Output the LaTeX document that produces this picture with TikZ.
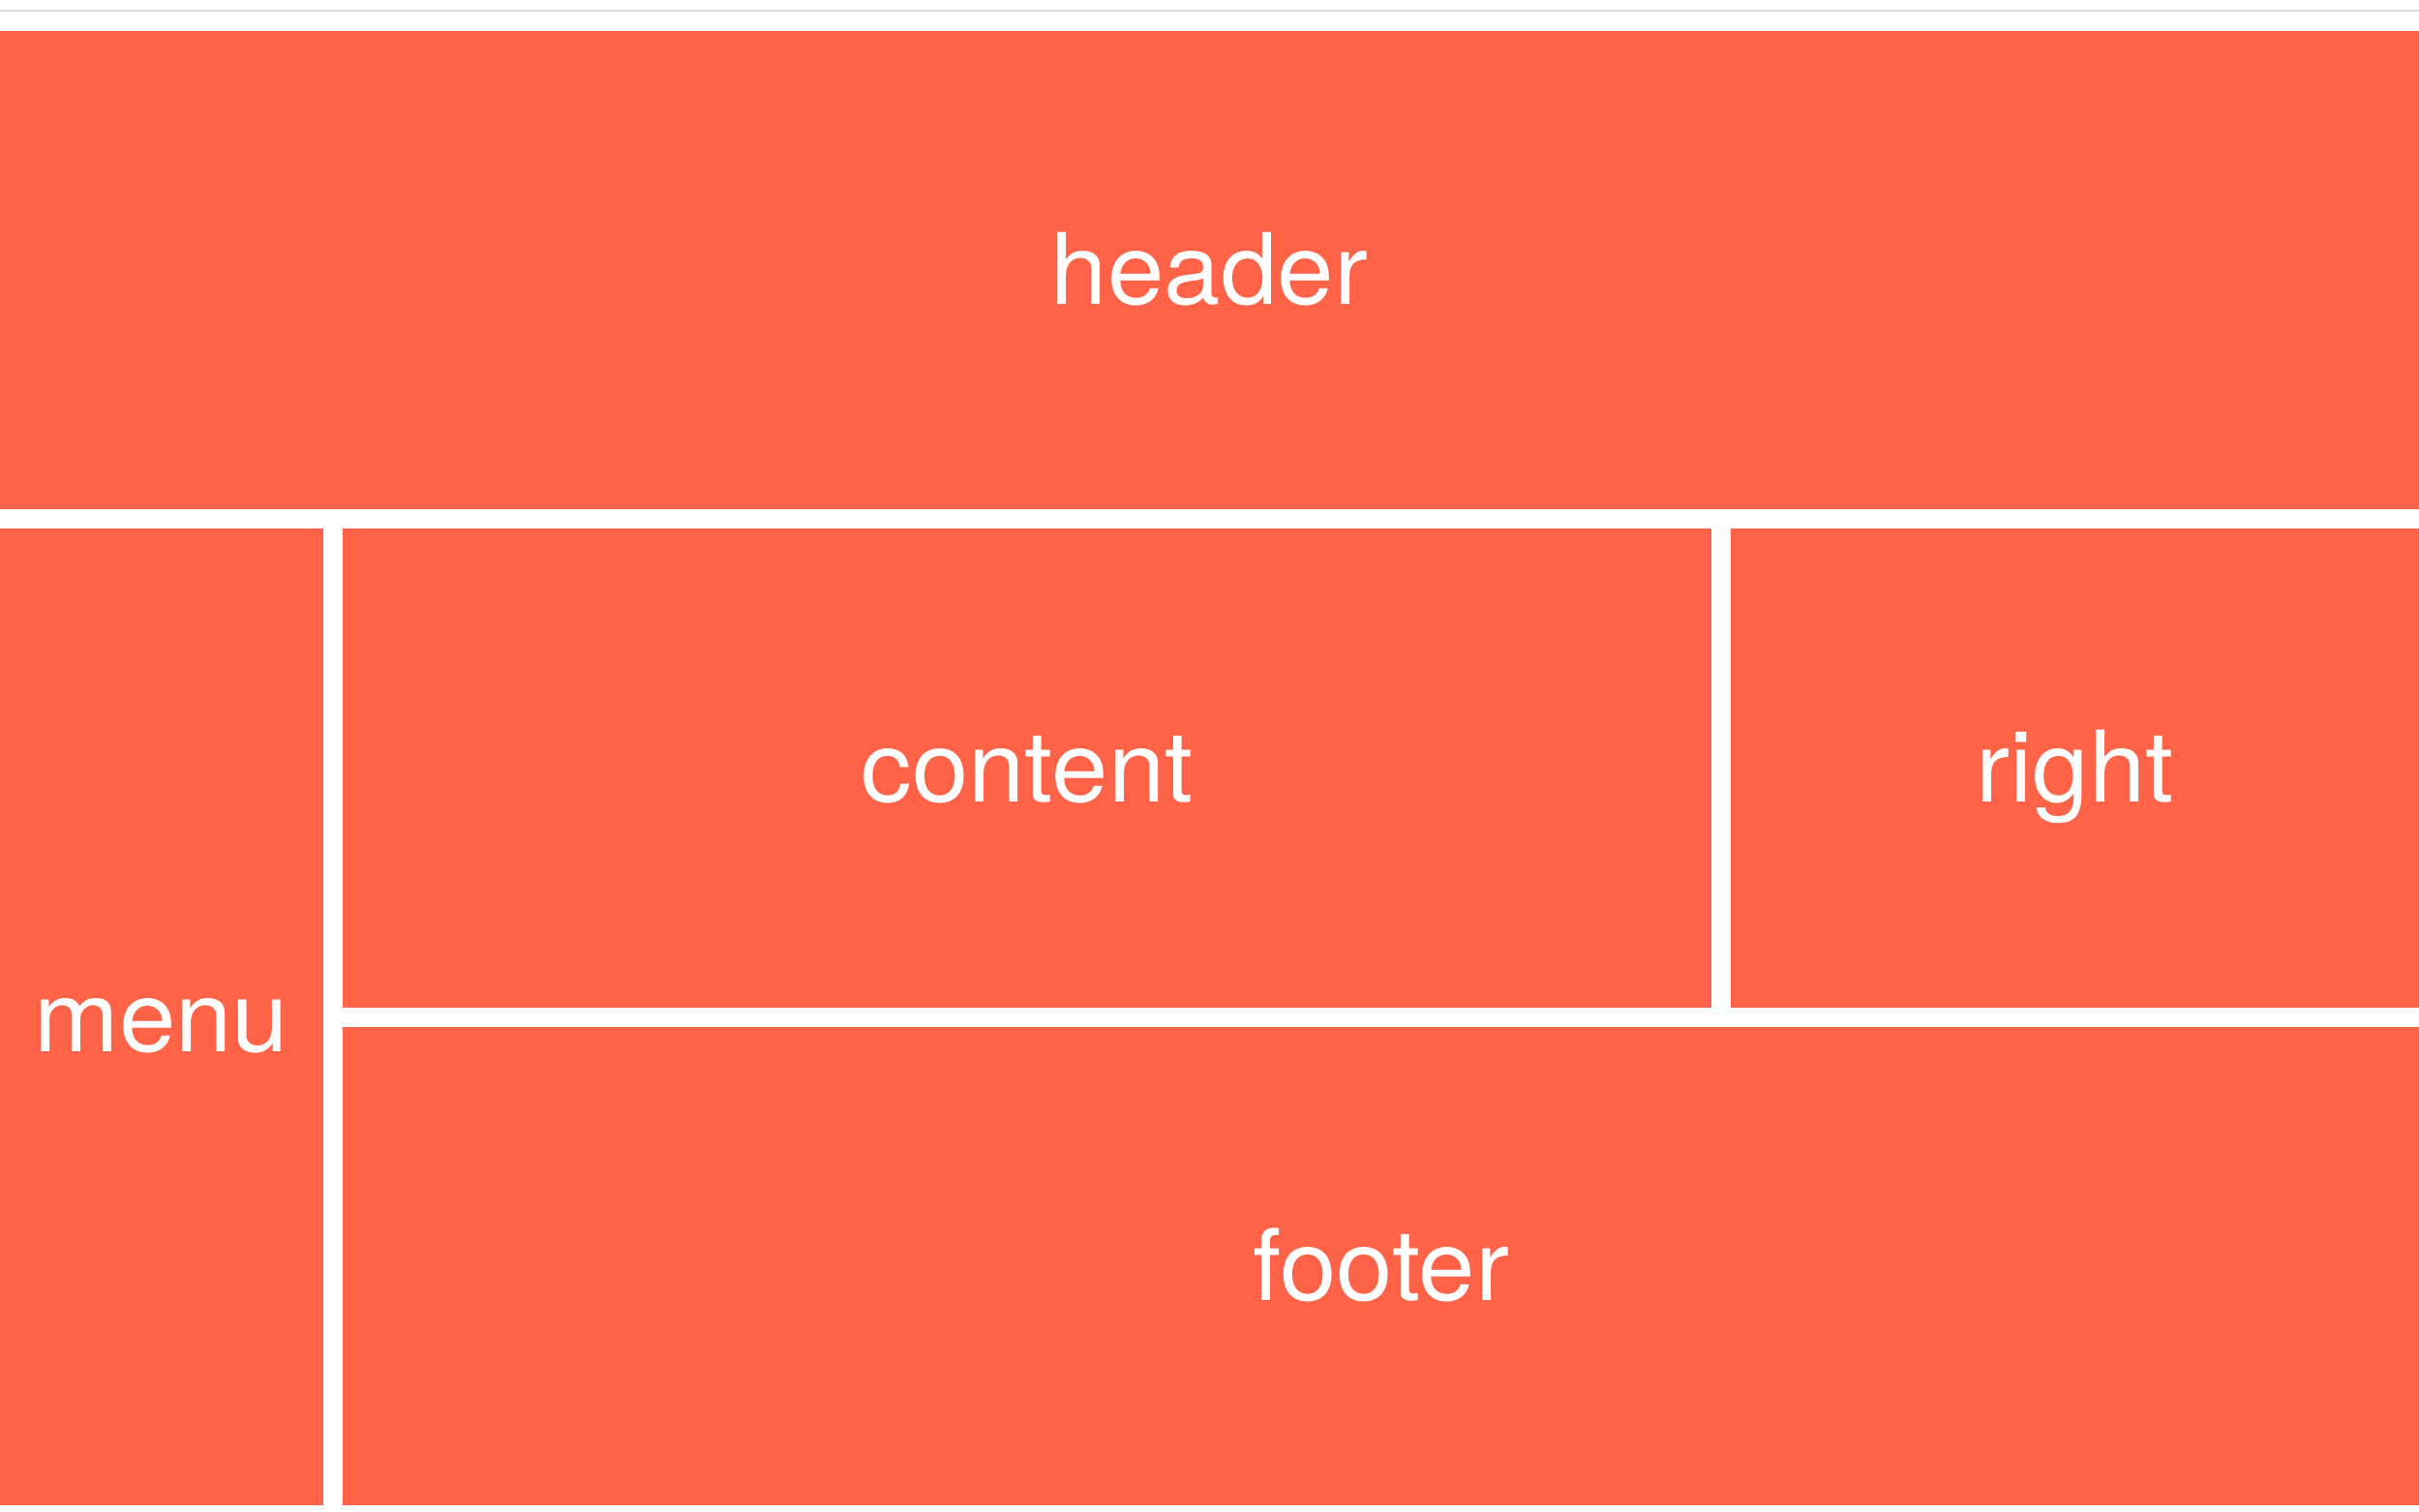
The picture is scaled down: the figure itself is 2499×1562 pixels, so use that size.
\documentclass[tikz,border=0pt]{standalone}
\usepackage{fontspec}
\setmainfont{TeX Gyre Heros}[FakeStretch=1.03]
\definecolor{tomatofill}{HTML}{FF6347}
\definecolor{rulegray}{HTML}{DDDDDD}
\begin{document}
\begin{tikzpicture}[x=1pt,y=-1pt,
  area/.style={fill=tomatofill, draw=none, inner sep=0pt, outer sep=0pt, anchor=north west},
  lbl/.style={text=white, inner sep=0pt, anchor=base, font=\fontsize{102}{110}\selectfont}]
  \fill[white] (0,0) rectangle (2499,1562);
  \useasboundingbox (0,0) rectangle (2499,1562);
  \fill[rulegray] (0,10) rectangle (2499,12);
  % areas
  \node[area, minimum width=2499pt, minimum height=494pt] (header) at (0,32) {};
  \node[area, minimum width=334pt, minimum height=1009pt] (menu) at (0,546) {};
  \node[area, minimum width=1414pt, minimum height=495pt] (content) at (354,546) {};
  \node[area, minimum width=711pt, minimum height=495pt] (right) at (1788,546) {};
  \node[area, minimum width=2145pt, minimum height=494pt] (footer) at (354,1061) {};
  % labels
  \node[lbl] (headerlbl) at ([yshift=-35pt]header.center) {header};
  \node[lbl] (menulbl) at ([yshift=-35.5pt]menu.center) {menu};
  \node[lbl] (contentlbl) at ([yshift=-34.5pt]content.center) {content};
  \node[lbl] (rightlbl) at ([yshift=-34.5pt]right.center) {right};
  \node[lbl] (footerlbl) at ([yshift=-35pt]footer.center) {footer};
\end{tikzpicture}
\end{document}
